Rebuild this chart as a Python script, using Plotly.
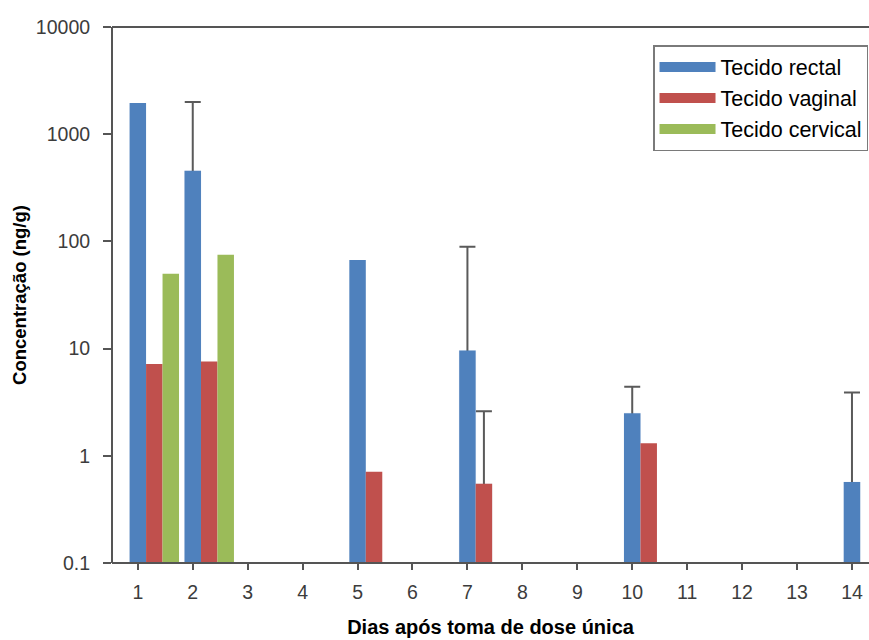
import plotly.graph_objects as go

# ---- data ----
days = [1, 2, 5, 7, 10, 14]
rectal = [1950, 455, 67, 9.6, 2.5, 0.57]
rectal_err_top = [None, 2000, None, 89, 4.4, 3.9]

vag_days = [1, 2, 5, 7, 10]
vaginal = [7.2, 7.6, 0.71, 0.55, 1.31]
vaginal_err_top = [None, None, None, 2.6, None]

cerv_days = [1, 2]
cervical = [50, 75]

x_ticks = list(range(1, 15))
y_ticks = [0.1, 1, 10, 100, 1000, 10000]
y_ticktext = ["0.1", "1", "10", "100", "1000", "10000"]

names = ["Tecido rectal", "Tecido vaginal", "Tecido cervical"]
colors = ["#4F81BD", "#C0504D", "#9BBB59"]

BAR_W = 0.30
offsets = [-0.15, 0.15, 0.45]

fig = go.Figure()

series = [(days, rectal, rectal_err_top), (vag_days, vaginal, vaginal_err_top),
          (cerv_days, cervical, None)]

for (xs, ys, errs), name, col, off in zip(series, names, colors, offsets):
    fig.add_trace(go.Bar(x=xs, y=ys, name=name, marker=dict(color=col, line=dict(width=0)),
                         width=BAR_W, offset=off, showlegend=False, zorder=1))
    if errs is not None:
        ex = [x for x, e in zip(xs, errs) if e is not None]
        ey = [y for y, e in zip(ys, errs) if e is not None]
        eu = [e - y for y, e in zip(ys, errs) if e is not None]
        fig.add_trace(go.Bar(x=ex, y=ey, width=BAR_W, offset=off, showlegend=False,
                             marker=dict(color="rgba(0,0,0,0)"), hoverinfo="skip", zorder=0,
                             error_y=dict(type="data", symmetric=False, array=eu, arrayminus=ey,
                                          color="#5a5a5a", thickness=2, width=8)))
    # legend swatch
    fig.add_trace(go.Scatter(x=[None], y=[None], mode="lines", name=name,
                             line=dict(color=col, width=15), legendgroup=name))

tickfont = dict(family="Liberation Sans, Arial, sans-serif", size=19.5, color="#3c3c3c")
titlefont = dict(family="Liberation Sans, Arial, sans-serif", color="black")

# axis frame lines (left, bottom, top) in paper coordinates
axis_line = dict(color="#555555", width=2)
for x0, y0, x1, y1 in [(0, 0, 0, 1), (0, 0, 1, 0), (0, 1, 1, 1)]:
    fig.add_shape(type="line", xref="paper", yref="paper", x0=x0, y0=y0, x1=x1, y1=y1,
                  line=axis_line, layer="above")

fig.update_layout(
    width=869, height=640,
    margin=dict(l=112, r=0, t=27, b=77),
    paper_bgcolor="white", plot_bgcolor="rgba(0,0,0,0)",
    barmode="overlay",
    showlegend=True,
    legend=dict(x=0.9987, xanchor="right", y=0.9664, yanchor="top",
                bordercolor="#7a7a7a", borderwidth=1.5, bgcolor="white",
                font=dict(family="Liberation Sans, Arial, sans-serif", size=21.5, color="black"),
                itemwidth=56, tracegroupgap=1, traceorder="normal"),
    xaxis=dict(range=[0.53, 14.31], tickmode="array", tickvals=x_ticks,
               ticktext=[str(t) for t in x_ticks],
               showgrid=False, zeroline=False, showline=False,
               ticks="outside", ticklen=6, tickwidth=2,
               tickcolor="#555555", tickfont=tickfont, ticklabelstandoff=6,
               title=dict(text="<b>Dias após toma de dose única</b>",
                          font=dict(size=20, **titlefont), standoff=17)),
    yaxis=dict(type="log", range=[-1, 4], tickmode="array", tickvals=y_ticks,
               ticktext=y_ticktext, showgrid=False, zeroline=False, showline=False,
               ticks="outside", ticklen=8,
               tickwidth=2, tickcolor="#555555", tickfont=tickfont, ticklabelstandoff=9,
               title=dict(text="<b>Concentração (ng/g)</b>",
                          font=dict(size=18.5, **titlefont), standoff=4)),
)

fig.write_html("out.html", config={"displayModeBar": False},
               post_script="document.body.style.margin='0px';")
